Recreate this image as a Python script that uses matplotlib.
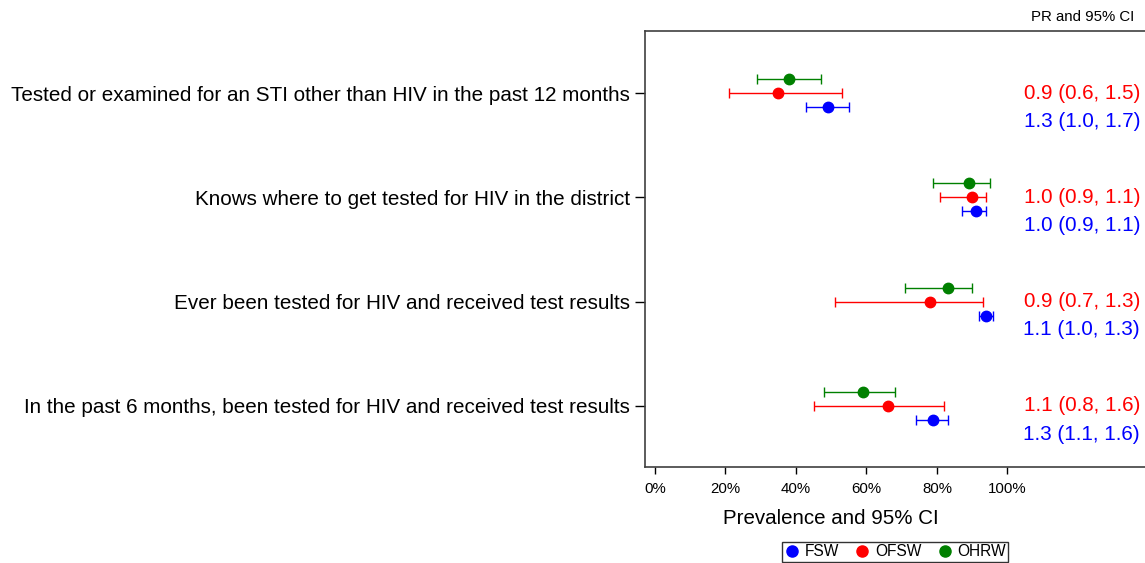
import numpy as np
import matplotlib
matplotlib.use('Agg')
import matplotlib.pyplot as plt
from matplotlib.lines import Line2D
from matplotlib.ticker import FuncFormatter

plt.rcParams['font.family'] = ['Liberation Sans', 'DejaVu Sans']

# Data (prevalence %, lower / upper 95% CI)
categories = [
    'Tested or examined for an STI other than HIV in the past 12 months',
    'Knows where to get tested for HIV in the district',
    'Ever been tested for HIV and received test results',
    'In the past 6 months, been tested for HIV and received test results',
]
fsw_est = [49, 91, 94, 79]
fsw_lo = [43, 87, 92, 74]
fsw_hi = [55, 94, 96, 83]
ofsw_est = [35, 90, 78, 66]
ofsw_lo = [21, 81, 51, 45]
ofsw_hi = [53, 94, 93, 82]
ohrw_est = [38, 89, 83, 59]
ohrw_lo = [29, 79, 71, 48]
ohrw_hi = [47, 95, 90, 68]
pr_ofsw = ['0.9 (0.6, 1.5)', '1.0 (0.9, 1.1)', '0.9 (0.7, 1.3)', '1.1 (0.8, 1.6)']
pr_fsw = ['1.3 (1.0, 1.7)', '1.0 (0.9, 1.1)', '1.1 (1.0, 1.3)', '1.3 (1.1, 1.6)']
xticks = [0, 20, 40, 60, 80, 100]

BLUE = '#0000FF'
RED = '#FF0000'
GREEN = '#008000'

fig = plt.figure(figsize=(11.45, 5.63), dpi=100)
ax = fig.add_axes([645 / 1145, 1 - 467 / 563, 500 / 1145, 436 / 563])

y = np.arange(len(categories))
off = 0.134

series = [
    (ohrw_est, ohrw_lo, ohrw_hi, GREEN, -off),
    (ofsw_est, ofsw_lo, ofsw_hi, RED, 0.0),
    (fsw_est, fsw_lo, fsw_hi, BLUE, off),
]
for est, lo, hi, col, dy in series:
    est = np.array(est)
    err = [est - np.array(lo), np.array(hi) - est]
    ax.errorbar(est, y + dy, xerr=err, fmt='o', color=col, ms=7.5,
                ecolor=col, elinewidth=1.0, capsize=3.6, capthick=1.0, zorder=3)

for i in range(len(categories)):
    ax.text(137.6, y[i], pr_ofsw[i], color=RED, fontsize=14.9,
            ha='right', va='center')
    ax.text(137.6, y[i] + 0.27, pr_fsw[i], color=BLUE, fontsize=14.9,
            ha='right', va='center')

ax.set_xlim(-2.8, 139)
ax.set_ylim(3.585, -0.595)
ax.set_yticks(y)
ax.set_yticklabels(categories, fontsize=14.9)
ax.set_xticks(xticks)
ax.xaxis.set_major_formatter(FuncFormatter(lambda v, p: '{:.0f}%'.format(v)))
ax.tick_params(axis='x', labelsize=10.8, length=5, width=1, pad=6)
ax.tick_params(axis='y', length=7, width=1, pad=4)

for s in ['left', 'top', 'bottom']:
    ax.spines[s].set_color('#404040')
    ax.spines[s].set_linewidth(1.2)
ax.spines['right'].set_visible(False)

ax.set_xlabel('Prevalence and 95% CI', fontsize=14.8)
ax.xaxis.set_label_coords((831 - 645) / 500, -0.097)

fig.text(1134 / 1145, 1 - 17 / 563, 'PR and 95% CI', fontsize=10.8,
         ha='right', va='center')

handles = [Line2D([], [], ls='none', marker='o', color=c, ms=8)
           for c in (BLUE, RED, GREEN)]
leg = fig.legend(handles, ['FSW', 'OFSW', 'OHRW'], loc='center',
                 bbox_to_anchor=(895 / 1145, 1 - 552 / 563), ncol=3,
                 fontsize=11.2, frameon=True, fancybox=False, handlelength=1.0,
                 handletextpad=0.3, columnspacing=1.0, borderpad=0.15,
                 borderaxespad=0)
leg.get_frame().set_edgecolor('black')
leg.get_frame().set_linewidth(1.0)

fig.savefig('out.png', dpi=100)
